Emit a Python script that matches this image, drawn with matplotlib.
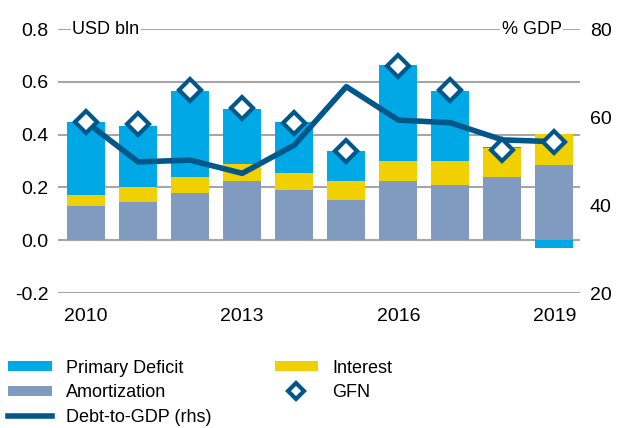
import matplotlib.pyplot as plt
import numpy as np

plt.rcParams['font.family'] = ['Liberation Sans', 'DejaVu Sans']

years = [2010, 2011, 2012, 2013, 2014, 2015, 2016, 2017, 2018, 2019]
amortization = [0.13, 0.145, 0.177, 0.224, 0.192, 0.154, 0.224, 0.209, 0.239, 0.286]
interest = [0.04, 0.055, 0.063, 0.063, 0.063, 0.070, 0.077, 0.092, 0.109, 0.116]
primary_deficit = [0.278, 0.233, 0.325, 0.209, 0.193, 0.115, 0.363, 0.264, 0.004, -0.029]
gfn = [0.448, 0.44, 0.57, 0.50, 0.443, 0.339, 0.661, 0.57, 0.342, 0.373]
debt_gdp = [58.9, 49.8, 50.2, 47.2, 53.6, 66.9, 59.3, 58.7, 54.8, 54.4]

c_pd = '#00A8E6'
c_int = '#F0D000'
c_am = '#819BC0'
c_line = '#00578A'

fig = plt.figure(figsize=(6.17, 4.28), dpi=100)
ax = fig.add_axes([0.094, 0.3154, 0.846, 0.6168])
ax2 = ax.twinx()

x = np.arange(len(years))
w = 0.73
am = np.array(amortization)
it = np.array(interest)
pd_ = np.array(primary_deficit)
pd_bottom = np.where(pd_ >= 0, am + it, 0)

ax.bar(x, am, w, color=c_am, zorder=2, label='Amortization')
ax.bar(x, it, w, bottom=am, color=c_int, zorder=2, label='Interest')
ax.bar(x, pd_, w, bottom=pd_bottom, color=c_pd, zorder=2, label='Primary Deficit')

ax.set_ylim(-0.2, 0.8)
ax.set_xlim(-0.54, 9.49)
ax.set_yticks([-0.2, 0.0, 0.2, 0.4, 0.6, 0.8])
ax.set_yticklabels(['-0.2', '0.0', '0.2', '0.4', '0.6', '0.8'])
ax.grid(axis='y', color='#A6A6A6', lw=1.5, zorder=0)
ax.set_axisbelow(True)
ax.set_xticks([0, 3, 6, 9])
ax.set_xticklabels(['2010', '2013', '2016', '2019'])
ax.tick_params(length=0, labelsize=14)
ax.tick_params(axis='x', pad=11)
ax.tick_params(axis='y', pad=7)
for s in ax.spines.values():
    s.set_visible(False)

ax2.plot(x, debt_gdp, color=c_line, lw=4, zorder=3, label='Debt-to-GDP (rhs)')
ax2.set_ylim(20, 80)
ax2.set_yticks([20, 40, 60, 80])
ax2.tick_params(length=0, labelsize=14, pad=7)
for s in ax2.spines.values():
    s.set_visible(False)

# GFN diamonds drawn on the left scale, on top of the line
gfn_y = [20 + (g + 0.2) * 60 for g in gfn]
ax2.plot(x, gfn_y, linestyle='none', marker='D', ms=11, mfc='white',
         mec=c_line, mew=3, zorder=4, label='GFN')

ax.text(0.027, 0.8, 'USD bln', transform=ax.get_yaxis_transform(), fontsize=13,
        va='center', ha='left', zorder=5,
        bbox=dict(facecolor='white', edgecolor='none', pad=1))
ax.text(0.965, 0.8, '% GDP', transform=ax.get_yaxis_transform(), fontsize=13,
        va='center', ha='right', zorder=5,
        bbox=dict(facecolor='white', edgecolor='none', pad=1))

h1, l1 = ax.get_legend_handles_labels()
h2, l2 = ax2.get_legend_handles_labels()
hd = dict(zip(l1 + l2, h1 + h2))
order = ['Primary Deficit', 'Amortization', 'Debt-to-GDP (rhs)', 'Interest', 'GFN']
leg = fig.legend([hd[k] for k in order], order, ncol=2, loc='upper left',
                 bbox_to_anchor=(-0.013, 0.198), frameon=False, fontsize=13,
                 handlelength=2.4, handleheight=0.5, handletextpad=0.8,
                 columnspacing=3.5, labelspacing=0.42, markerscale=0.7)

fig.savefig('out.png', dpi=100)
